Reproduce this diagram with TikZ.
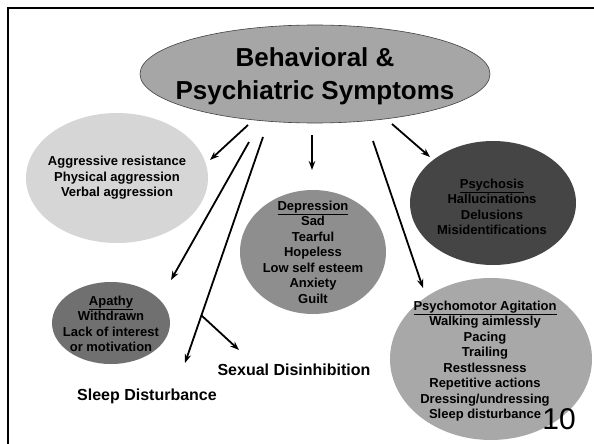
\documentclass[tikz,border=0pt]{standalone}
\usepackage{fontspec}
\setmainfont{Liberation Sans}
\usetikzlibrary{shapes.geometric,arrows.meta}
\definecolor{hubgray}{HTML}{A6A6A6}
\definecolor{lightgray}{HTML}{D6D6D6}
\definecolor{midgray}{HTML}{8E8E8E}
\definecolor{darkgray}{HTML}{454545}
\definecolor{apathygray}{HTML}{707070}
\definecolor{agitgray}{HTML}{A8A8A8}
\tikzset{
  blob/.style={ellipse, inner sep=0pt, draw=none},
  listtext/.style={align=center, inner sep=0pt, font=\bfseries\fontsize{13}{15.5}\selectfont},
  loose/.style={inner sep=0pt, font=\bfseries\fontsize{16}{19}\selectfont},
  link/.style={line width=1.8pt, -{Stealth[length=9pt,width=6.5pt]}}
}
\begin{document}
\begin{tikzpicture}[x=1pt,y=-1pt]
\useasboundingbox (0,0) rectangle (594,444);
\fill[white] (0,0) rectangle (594,444);

% slide frame
\draw[line width=2.7pt] (8,444) -- (8,8) -- (594,8);

% central topic
\node[blob, fill=hubgray, draw=black!75, line width=0.6pt,
      minimum width=350pt, minimum height=98pt] (hub) at (315,74) {};
\node[align=center, inner sep=0pt, font=\bfseries\fontsize{26}{33}\selectfont] (hubT) at (315,76)
  {Behavioral \&\\Psychiatric Symptoms};

% symptom groups
\node[blob, fill=lightgray, minimum width=182pt, minimum height=130pt] (agg) at (117,178) {};
\node[listtext] (aggT) at (117,178) {Aggressive resistance\\Physical aggression\\Verbal aggression};

\node[blob, fill=midgray, minimum width=146pt, minimum height=124pt] (dep) at (313,252) {};
\node[listtext] (depT) at (313,252) {\underline{Depression}\\Sad\\Tearful\\Hopeless\\Low self esteem\\Anxiety\\Guilt};

\node[blob, fill=darkgray, minimum width=166pt, minimum height=124pt] (psy) at (493,203) {};
\node[listtext] (psyT) at (492,207) {\underline{Psychosis}\\Hallucinations\\Delusions\\Misidentifications};

\node[blob, fill=apathygray, minimum width=118pt, minimum height=82pt] (apa) at (111,323) {};
\node[listtext] (apaT) at (111,324) {\underline{Apathy}\\Withdrawn\\Lack of interest\\or motivation};

\node[blob, fill=agitgray, minimum width=202pt, minimum height=162pt] (agi) at (491,359) {};
\node[listtext] (agiT) at (485,361) {\underline{Psychomotor Agitation}\\Walking aimlessly\\Pacing\\Trailing\\Restlessness\\Repetitive actions\\Dressing/undressing\\Sleep disturbance};

\node[loose] (sex) at (294,370) {Sexual Disinhibition};
\node[loose] (sleep) at (147,396) {Sleep Disturbance};

\node[inner sep=0pt, font=\fontsize{30}{30}\selectfont] (pagenum) at (559,419) {10};

% connector end points
\coordinate (s1) at (248,125); \coordinate (e1) at (210,160);
\coordinate (s2) at (249,142); \coordinate (e2) at (171,280);
\coordinate (s3) at (263,137); \coordinate (e3) at (185,363);
\coordinate (fork) at (201,315); \coordinate (e3b) at (239,350);
\coordinate (s4) at (312,135); \coordinate (e4) at (312,170);
\coordinate (s5) at (373,141); \coordinate (e5) at (423,288);
\coordinate (s6) at (392,124); \coordinate (e6) at (430,157);

% connectors
\draw[link] (s1) -- (e1);
\draw[link] (s2) -- (e2);
\draw[link] (s3) -- (e3);
\draw[link] (fork) -- (e3b);
\draw[link] (s4) -- (e4);
\draw[link] (s5) -- (e5);
\draw[link] (s6) -- (e6);
\end{tikzpicture}
\end{document}
